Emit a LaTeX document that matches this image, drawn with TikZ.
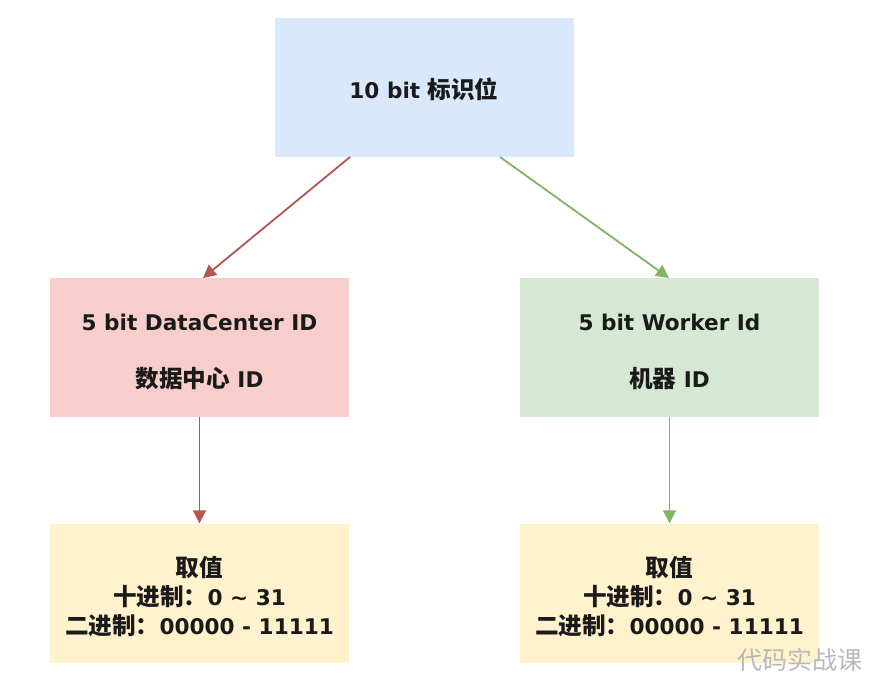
\documentclass[tikz,border=0pt]{standalone}
\usepackage{fontspec}
\setmainfont{DejaVu Sans}
\newfontfamily\cjk{Noto Sans CJK SC}
\usetikzlibrary{arrows.meta}
\definecolor{blueF}{HTML}{DAE8FC}
\definecolor{redF}{HTML}{F8CECC}
\definecolor{greenF}{HTML}{D5E8D4}
\definecolor{yellowF}{HTML}{FFF2CC}
\definecolor{redL}{HTML}{B85450}
\definecolor{greenL}{HTML}{82B366}
\definecolor{txt}{HTML}{1A1A1A}
\tikzset{
  box/.style={minimum width=299pt, minimum height=139pt, inner sep=0pt, align=center,
    font=\fontsize{21.6}{26}\selectfont\bfseries, text=txt},
  valbox/.style={box, fill=yellowF, font=\fontsize{21.6}{29}\selectfont\bfseries},
  redarrow/.style={draw=redL, line width=1.8pt, -{Triangle[length=13pt,width=13pt]}},
  greenarrow/.style={draw=greenL, line width=1.8pt, -{Triangle[length=13pt,width=13pt]}},
}
\newcommand{\zh}[1]{{\cjk\fontsize{23.6}{26}\selectfont #1}}
\newcommand{\lift}[1]{\rule{0pt}{#1}}
\begin{document}
\begin{tikzpicture}[x=1pt,y=-1pt]
\path[use as bounding box, fill=white] (0,0) rectangle (870,682);
\node[box, fill=blueF] (top) at (424,87.5) {\lift{24pt}10 bit \zh{标识位}};
\node[box, fill=redF] (dc) at (199.5,347) {\lift{27pt}5 bit DataCenter ID\\[31pt]\zh{数据中心} ID};
\node[box, fill=greenF] (wk) at (669.5,347) {\lift{27pt}5 bit Worker Id\\[31pt]\zh{机器} ID};
\node[valbox] (dcv) at (199.5,593) {\lift{28pt}\zh{取值}\\\zh{十进制：}0 \textasciitilde{} 31\\\zh{二进制：}00000 - 11111};
\node[valbox] (wkv) at (669.5,593) {\lift{28pt}\zh{取值}\\\zh{十进制：}0 \textasciitilde{} 31\\\zh{二进制：}00000 - 11111};
\coordinate (tl) at (350,157);
\coordinate (tr) at (500,157);
\coordinate (dctop) at (203,278);
\coordinate (wktop) at (669,278);
\draw[redarrow] (tl) -- (dctop);
\draw[greenarrow] (tr) -- (wktop);
\draw[redarrow] (dc.south) -- (dcv.north);
\draw[greenarrow] (wk.south) -- (wkv.north);
\node[font=\cjk\fontsize{25}{25}\selectfont, text=gray!55, anchor=center] (wm) at (800,660) {代码实战课};
\end{tikzpicture}
\end{document}
